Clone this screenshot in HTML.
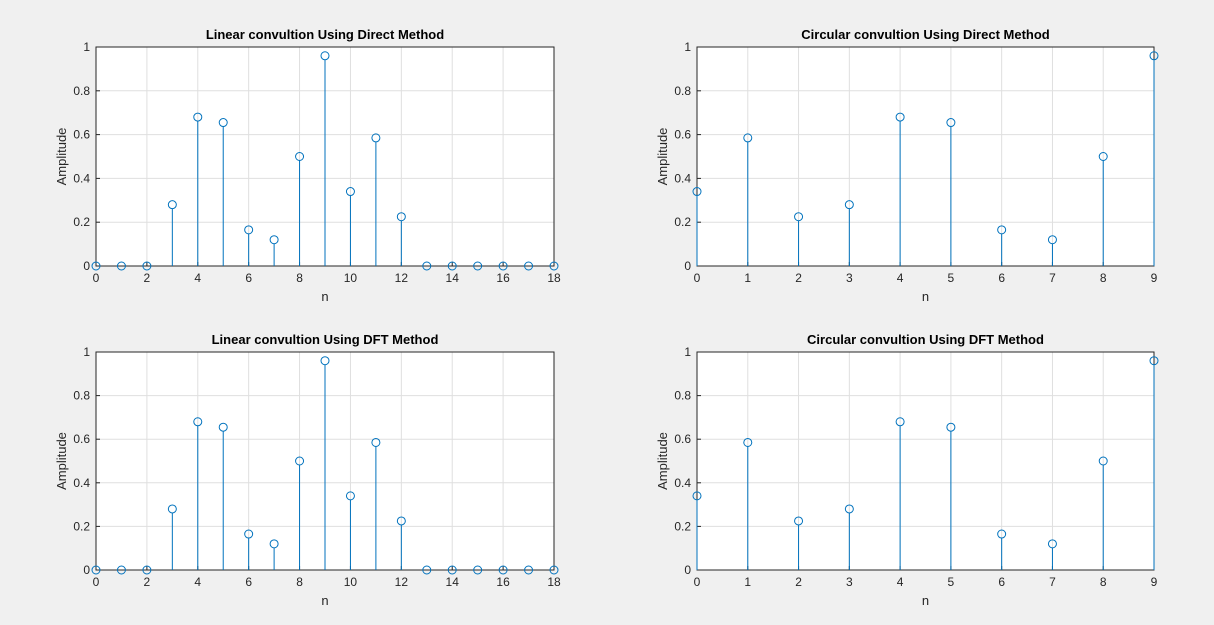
<!DOCTYPE html>
<html><head><meta charset="utf-8"><style>
html,body{margin:0;padding:0;background:#f0f0f0;}
svg{display:block;font-family:"Liberation Sans",Arial,sans-serif;}
</style></head><body>
<svg id="fig" width="1214" height="625" xmlns="http://www.w3.org/2000/svg"></svg>
<script>
const linN = [0,1,2,3,4,5,6,7,8,9,10,11,12,13,14,15,16,17,18];
const linDirect = [0,0,0,0.28,0.68,0.655,0.165,0.12,0.5,0.96,0.34,0.585,0.225,0,0,0,0,0,0];
const linDFT = [0,0,0,0.28,0.68,0.655,0.165,0.12,0.5,0.96,0.34,0.585,0.225,0,0,0,0,0,0];
const circN = [0,1,2,3,4,5,6,7,8,9];
const circDirect = [0.34,0.585,0.225,0.28,0.68,0.655,0.165,0.12,0.5,0.96];
const circDFT = [0.34,0.585,0.225,0.28,0.68,0.655,0.165,0.12,0.5,0.96];
const yTicks = [0,0.2,0.4,0.6,0.8,1];
const yTickLabels = ["0","0.2","0.4","0.6","0.8","1"];

const NS="http://www.w3.org/2000/svg";
const svg=document.getElementById('fig');
function mk(tag,attrs,parent){const e=document.createElementNS(NS,tag);for(const k in attrs)e.setAttribute(k,attrs[k]);(parent||svg).appendChild(e);return e;}

const panels=[
 {name:'linear-direct',title:'Linear convultion Using Direct Method',x0:96,x1:554,y0:47,y1:266,n:linN,v:linDirect,xmax:18,step:2},
 {name:'circular-direct',title:'Circular convultion Using Direct Method',x0:697,x1:1154,y0:47,y1:266,n:circN,v:circDirect,xmax:9,step:1},
 {name:'linear-dft',title:'Linear convultion Using DFT Method',x0:96,x1:554,y0:352,y1:570,n:linN,v:linDFT,xmax:18,step:2},
 {name:'circular-dft',title:'Circular convultion Using DFT Method',x0:697,x1:1154,y0:352,y1:570,n:circN,v:circDFT,xmax:9,step:1}
];
panels.forEach(p=>{
 const g=mk('g',{});
 
 
 const xs=v=>p.x0+(p.x1-p.x0)*v/p.xmax;
 const ys=v=>p.y1-(p.y1-p.y0)*v;
 mk('rect',{x:p.x0,y:p.y0,width:p.x1-p.x0,height:p.y1-p.y0,fill:'#fff'},g);
 for(let i=0;i<=p.xmax;i+=p.step){mk('line',{x1:xs(i),x2:xs(i),y1:p.y0,y2:p.y1,stroke:'#dfdfdf','stroke-width':1},g);}
 yTicks.forEach(t=>mk('line',{x1:p.x0,x2:p.x1,y1:ys(t),y2:ys(t),stroke:'#dfdfdf','stroke-width':1},g));
 mk('rect',{x:p.x0,y:p.y0,width:p.x1-p.x0,height:p.y1-p.y0,fill:'none',stroke:'#262626','stroke-width':1},g);
 yTicks.forEach((t,i)=>{
  mk('line',{x1:p.x0,x2:p.x0+4,y1:ys(t),y2:ys(t),stroke:'#262626'},g);
  const tx=mk('text',{x:p.x0-6,y:ys(t)+4,'text-anchor':'end','font-size':12,fill:'#262626'},g);tx.textContent=yTickLabels[i];
  
  
 });
 for(let n=0;n<=p.xmax;n+=p.step){
  mk('line',{x1:xs(n),x2:xs(n),y1:p.y1,y2:p.y1-4,stroke:'#262626'},g);
  const tx=mk('text',{x:xs(n),y:p.y1+16,'text-anchor':'middle','font-size':12,fill:'#262626'},g);tx.textContent=n;
  
  
 }
 p.n.forEach((n,i)=>{
  const h=ys(0)-ys(p.v[i]);
  if(h>4.5){
   const l=mk('line',{x1:xs(n),x2:xs(n),y1:ys(0),y2:ys(p.v[i])+4,stroke:'#0072bd','stroke-width':1},g);
   
   
  }
  const c=mk('circle',{cx:xs(n),cy:ys(p.v[i]),r:4,fill:'none',stroke:'#0072bd','stroke-width':1},g);
  
  
 });
 const t=mk('text',{x:(p.x0+p.x1)/2,y:p.y0-8,'text-anchor':'middle','font-size':13,'font-weight':'bold',fill:'#000'},g);t.textContent=p.title;
 
 
 const xl=mk('text',{x:(p.x0+p.x1)/2,y:p.y1+35,'text-anchor':'middle','font-size':13,fill:'#262626'},g);xl.textContent='n';
 
 
 const cy=(p.y0+p.y1)/2;
 const yl=mk('text',{x:p.x0-30,y:cy,'text-anchor':'middle','font-size':13,fill:'#262626',transform:`rotate(-90 ${p.x0-30} ${cy})`},g);yl.textContent='Amplitude';
 
 
});
</script>
</body></html>
